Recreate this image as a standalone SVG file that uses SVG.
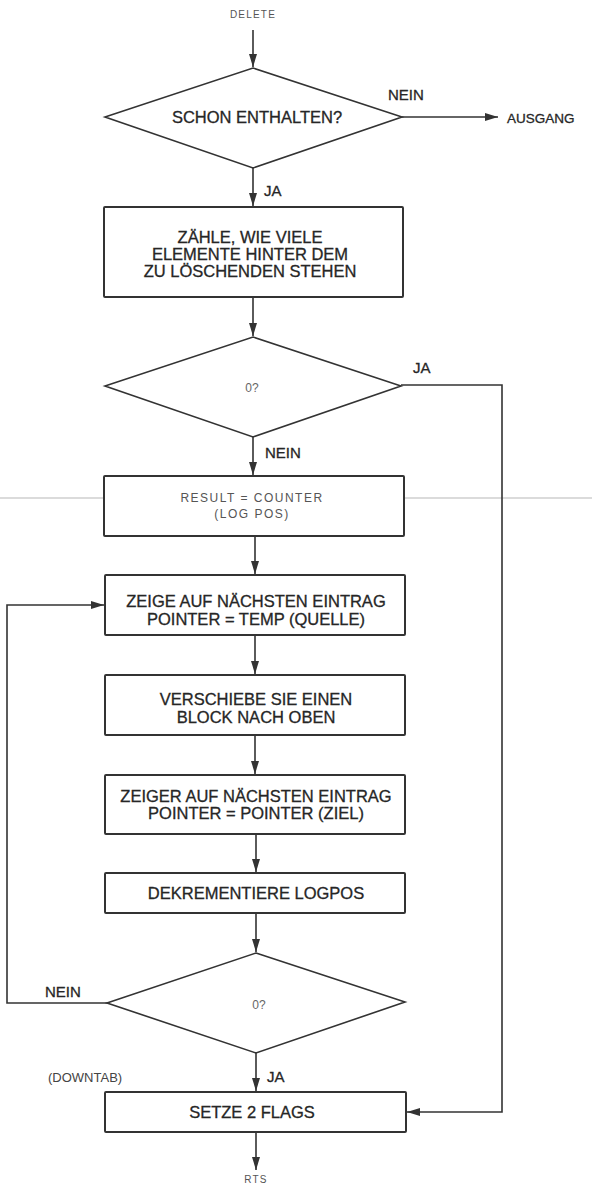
<svg xmlns="http://www.w3.org/2000/svg" width="592" height="1187" viewBox="0 0 592 1187">
  <style>
    .box { fill: #fff; stroke: #333; stroke-width: 2; }
    .dia { fill: #fff; stroke: #333; stroke-width: 1.6; }
    .t { font-family: "Liberation Sans", Arial, sans-serif; font-size: 16.5px; fill: #262626; stroke: #262626; stroke-width: 0.3; text-anchor: middle; }
    .lbl { font-family: "Liberation Sans", Arial, sans-serif; font-size: 15px; fill: #262626; stroke: #262626; stroke-width: 0.3; }
    .small { font-family: "Liberation Sans", Arial, sans-serif; font-size: 10px; fill: #555; text-anchor: middle; letter-spacing: 1.2px; }
    .q { font-family: "Liberation Sans", Arial, sans-serif; font-size: 12px; fill: #666; text-anchor: middle; }
    .light { font-family: "Liberation Sans", Arial, sans-serif; font-size: 12px; fill: #555; text-anchor: middle; letter-spacing: 1.5px; }
    .conn { fill: none; stroke: #333; stroke-width: 1.6; }
  </style>
  <defs>
    <marker id="ah" markerUnits="userSpaceOnUse" markerWidth="14" markerHeight="8" refX="13" refY="4" orient="auto">
      <path d="M0,0 L13,4 L0,8 z" fill="#333"/>
    </marker>
  </defs>
  <rect width="592" height="1187" fill="#fff"/>
  <g id="scan-line">
    <line x1="0" y1="498" x2="592" y2="498" stroke="#cfcfcf" stroke-width="1.5"/>
  </g>
  <g id="connectors">
    <line class="conn" x1="253" y1="30" x2="253" y2="67" marker-end="url(#ah)"/>
    <line class="conn" x1="402" y1="117" x2="498" y2="117" marker-end="url(#ah)"/>
    <line class="conn" x1="253" y1="168" x2="253" y2="206" marker-end="url(#ah)"/>
    <line class="conn" x1="253" y1="297" x2="253" y2="336" marker-end="url(#ah)"/>
    <line class="conn" x1="253" y1="437" x2="253" y2="475" marker-end="url(#ah)"/>
    <line class="conn" x1="255" y1="536" x2="255" y2="574" marker-end="url(#ah)"/>
    <line class="conn" x1="255" y1="635" x2="255" y2="674" marker-end="url(#ah)"/>
    <line class="conn" x1="255" y1="735" x2="255" y2="774" marker-end="url(#ah)"/>
    <line class="conn" x1="256" y1="834" x2="256" y2="872" marker-end="url(#ah)"/>
    <line class="conn" x1="256" y1="913" x2="256" y2="952" marker-end="url(#ah)"/>
    <line class="conn" x1="256" y1="1053" x2="256" y2="1091" marker-end="url(#ah)"/>
    <line class="conn" x1="256" y1="1132" x2="256" y2="1170" marker-end="url(#ah)"/>
    <polyline class="conn" points="401,385 502,385 502,1112 407,1112" marker-end="url(#ah)"/>
    <polyline class="conn" points="107,1003 7,1003 7,605 104,605" marker-end="url(#ah)"/>
  </g>
  <g id="start">
    <text class="small" x="253" y="18">DELETE</text>
  </g>
  <g id="d1">
    <polygon class="dia" points="253,68 402,117 253,168 105,117"/>
    <text class="t" x="257" y="123">SCHON ENTHALTEN?</text>
  </g>
  <g id="exit">
    <text class="lbl" x="507" y="123" style="font-size:13.5px">AUSGANG</text>
  </g>
  <g id="b1">
    <rect class="box" x="104" y="207" width="299" height="90" rx="1"/>
    <text class="t" x="250" y="243">ZÄHLE, WIE VIELE</text>
    <text class="t" x="250" y="260">ELEMENTE HINTER DEM</text>
    <text class="t" x="250" y="277">ZU LÖSCHENDEN STEHEN</text>
  </g>
  <g id="d2">
    <polygon class="dia" points="253,337 401,386 253,437 105,386"/>
    <text class="q" x="252" y="392">0?</text>
  </g>
  <g id="b2">
    <rect class="box" x="104" y="476" width="300" height="60" rx="1"/>
    <text class="light" x="252" y="502">RESULT  =  COUNTER</text>
    <text class="light" x="252" y="518">(LOG POS)</text>
  </g>
  <g id="b3">
    <rect class="box" x="105" y="575" width="300" height="60" rx="1"/>
    <text class="t" x="256" y="607">ZEIGE AUF NÄCHSTEN EINTRAG</text>
    <text class="t" x="256" y="625">POINTER = TEMP (QUELLE)</text>
  </g>
  <g id="b4">
    <rect class="box" x="105" y="675" width="300" height="60" rx="1"/>
    <text class="t" x="256" y="705">VERSCHIEBE SIE EINEN</text>
    <text class="t" x="256" y="723">BLOCK NACH OBEN</text>
  </g>
  <g id="b5">
    <rect class="box" x="105" y="775" width="300" height="59" rx="1"/>
    <text class="t" x="256" y="802">ZEIGER AUF NÄCHSTEN EINTRAG</text>
    <text class="t" x="256" y="819">POINTER = POINTER (ZIEL)</text>
  </g>
  <g id="b6">
    <rect class="box" x="105" y="873" width="300" height="40" rx="1"/>
    <text class="t" x="256" y="899">DEKREMENTIERE LOGPOS</text>
  </g>
  <g id="d3">
    <polygon class="dia" points="256,953 405,1002 256,1053 107,1003"/>
    <text class="q" x="259" y="1009">0?</text>
  </g>
  <g id="b7">
    <rect class="box" x="105" y="1092" width="301" height="40" rx="1"/>
    <text class="t" x="252" y="1118">SETZE 2 FLAGS</text>
  </g>
  <g id="end">
    <text class="small" x="256" y="1183">RTS</text>
  </g>
  <g id="labels">
    <text class="lbl" x="388" y="100">NEIN</text>
    <text class="lbl" x="264" y="196">JA</text>
    <text class="lbl" x="413" y="373">JA</text>
    <text class="lbl" x="265" y="458">NEIN</text>
    <text class="lbl" x="45" y="997">NEIN</text>
    <text class="lbl" x="48" y="1082" style="font-size:13px;fill:#444;stroke:none">(DOWNTAB)</text>
    <text class="lbl" x="267" y="1082">JA</text>
  </g>
</svg>
